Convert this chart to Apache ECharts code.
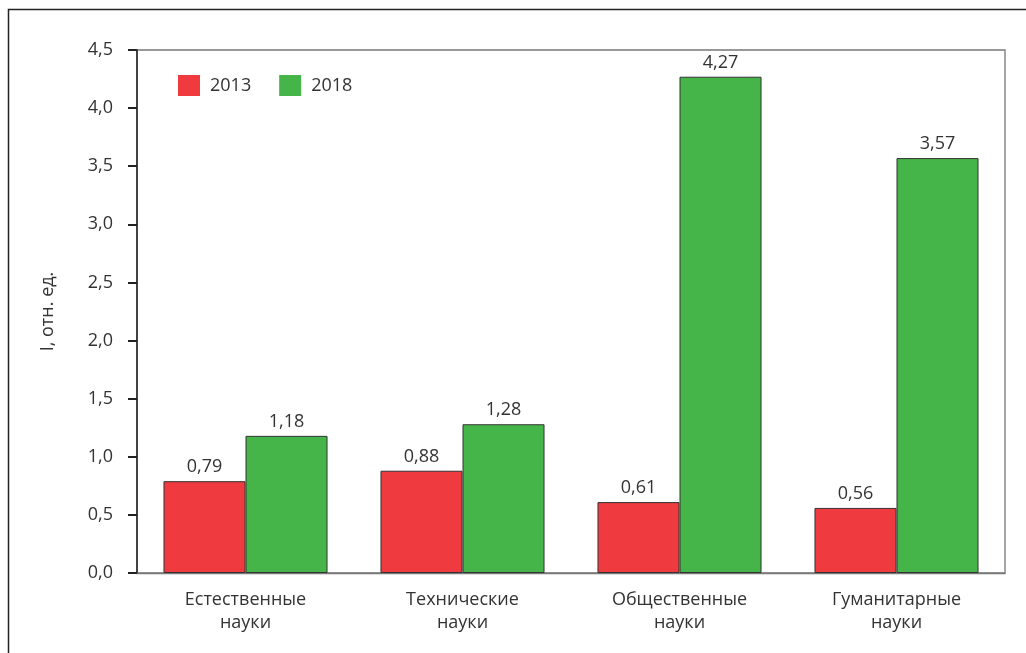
<!DOCTYPE html>
<html><head><meta charset="utf-8">
<script src="https://cdn.jsdelivr.net/npm/echarts@6/dist/echarts.min.js"></script>
<style>html,body{margin:0;padding:0;background:#fff}#c{width:1026px;height:653px}</style>
</head><body><div id="c"></div>
<script>
const categories = ['Естественные\nнауки', 'Технические\nнауки', 'Общественные\nнауки', 'Гуманитарные\nнауки'];
const values2013 = [0.79, 0.88, 0.61, 0.56];
const values2018 = [1.18, 1.28, 4.27, 3.57];
const seriesNames = ['2013', '2018'];
const yAxisTitle = 'I, отн. ед.';

const font = '"Open Sans", "Noto Sans", sans-serif';
const fmt = v => v.toFixed(2).replace('.', ',');
const chart = echarts.init(document.getElementById('c'), null, {renderer: 'canvas'});
chart.setOption({
  animation: false,
  textStyle: {fontFamily: font},
  graphic: [
    {type: 'rect', shape: {x: 8.5, y: 9.5, width: 1100, height: 700}, style: {fill: 'none', stroke: '#222', lineWidth: 1.5}, silent: true},
    {type: 'rect', shape: {x: 137, y: 50, width: 868, height: 523}, style: {fill: 'none', stroke: '#777', lineWidth: 1.3}, silent: true, z: 0}
  ],
  legend: {
    left: 178, top: 75, padding: 0, itemWidth: 22, itemHeight: 21, itemGap: 28,
    icon: 'rect',
    itemStyle: {borderWidth: 0},
    textStyle: {fontSize: 18, color: '#333', fontFamily: font, padding: [0, 0, 0, 5]},
    data: seriesNames
  },
  grid: {left: 137, top: 50, right: 21, bottom: 80, containLabel: false},
  xAxis: {
    type: 'category', data: categories,
    axisLine: {show: true, lineStyle: {color: '#777', width: 1.3}},
    axisTick: {show: false},
    axisLabel: {fontSize: 18, color: '#333', lineHeight: 23, margin: 15, fontFamily: font}
  },
  yAxis: {
    type: 'value', min: 0, max: 4.5, interval: 0.5,
    name: yAxisTitle, nameLocation: 'middle', nameGap: 80, nameRotate: 90,
    nameTextStyle: {fontSize: 18, color: '#333', fontFamily: font},
    axisLine: {show: true, lineStyle: {color: '#222', width: 1.5}},
    axisTick: {show: true, inside: false, length: 9, lineStyle: {color: '#222', width: 2}},
    splitLine: {show: false},
    axisLabel: {fontSize: 18, color: '#333', margin: 24, fontFamily: font,
      formatter: v => v.toFixed(1).replace('.', ',')}
  },
  series: [
    {name: seriesNames[0], type: 'bar', data: values2013, barGap: '0%', barCategoryGap: '24.4%',
     itemStyle: {color: '#EF3B3F', borderColor: '#333', borderWidth: 1},
     label: {show: true, position: 'top', distance: 5, fontSize: 18, color: '#333', fontFamily: font, formatter: p => fmt(p.value)}},
    {name: seriesNames[1], type: 'bar', data: values2018,
     itemStyle: {color: '#45B549', borderColor: '#333', borderWidth: 1},
     label: {show: true, position: 'top', distance: 5, fontSize: 18, color: '#333', fontFamily: font, formatter: p => fmt(p.value)}}
  ]
});
</script></body></html>
